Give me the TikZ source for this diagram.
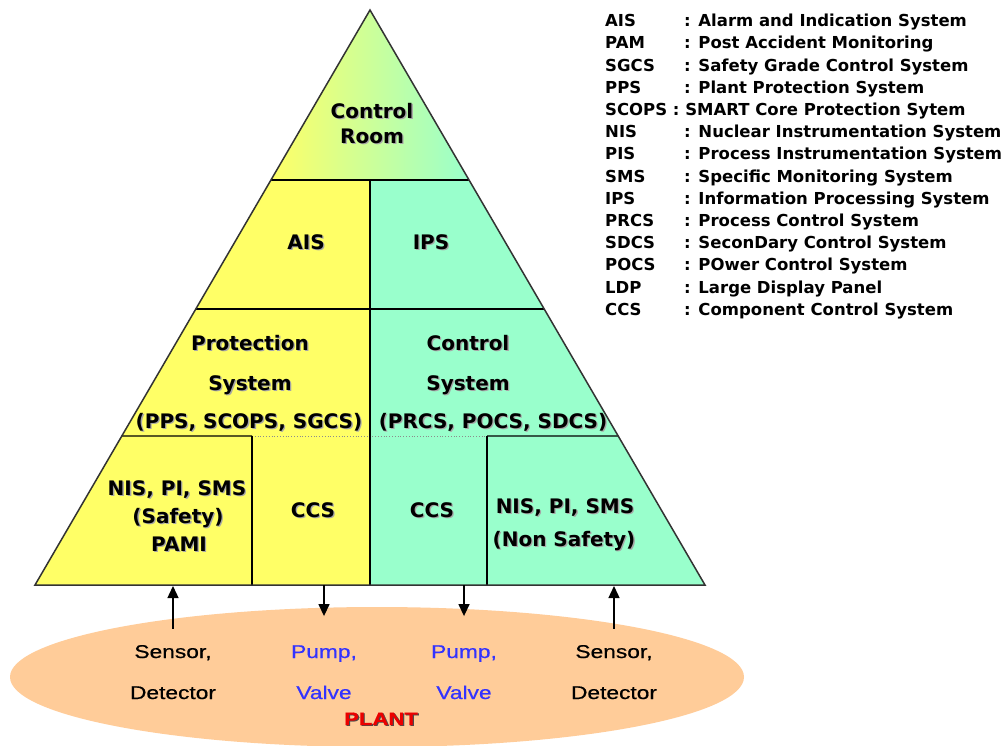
\documentclass[tikz,border=0pt]{standalone}
\usepackage{fontspec}
\setmainfont{DejaVu Sans}
\newfontfamily\plantfont{Liberation Sans}[FakeStretch=1.23,FakeBold=0.6]
\usetikzlibrary{arrows.meta,calc}
\definecolor{ylw}{RGB}{255,255,102}
\definecolor{grn}{RGB}{153,255,204}
\definecolor{peach}{RGB}{255,204,153}
\definecolor{pblue}{RGB}{51,51,255}
\definecolor{edgec}{RGB}{51,51,51}
\definecolor{pred}{RGB}{235,0,0}
\newcommand\shd[1]{\makebox[0pt][l]{\kern1.3pt\raisebox{-1.3pt}{\textcolor{black!35}{#1}}}#1}
\newcommand\shdk[1]{\makebox[0pt][l]{\kern1.2pt\raisebox{-0.8pt}{\textcolor{black!70}{#1}}}#1}
\tikzset{
  lbl/.style={font=\fontsize{20}{24}\selectfont\bfseries, inner sep=0pt, anchor=base},
  leg/.style={font=\fontsize{16.5}{20}\selectfont\bfseries, inner sep=0pt, anchor=base west},
  pl/.style={font=\plantfont\fontsize{18.5}{22}\selectfont, inner sep=0pt, anchor=base},
  bluetxt/.style={pl, text=pblue},
  divider/.style={draw=black, line width=1.4pt},
  arr/.style={draw=black, line width=1.4pt, -{Triangle[length=12pt,width=11pt]}},
}
\begin{document}
\begin{tikzpicture}[x=1pt,y=-1pt]
\useasboundingbox (0,0) rectangle (1008,745);
\fill[white] (0,0) rectangle (1008,745);

% plant ellipse
\fill[peach] (377,677) ellipse [x radius=367, y radius=70];

% triangle corners
\coordinate (A) at (370,10);
\coordinate (BL) at (35,585);
\coordinate (BR) at (705,585);
\coordinate (L1) at ($(A)!0.29565!(BL)$);
\coordinate (R1) at ($(A)!0.29565!(BR)$);
\coordinate (L2) at ($(A)!0.52!(BL)$);
\coordinate (R2) at ($(A)!0.52!(BR)$);
\coordinate (L3) at ($(A)!0.74087!(BL)$);
\coordinate (R3) at ($(A)!0.74087!(BR)$);
\coordinate (M1) at (370,180);
\coordinate (M4) at (370,585);
\coordinate (V1t) at (252,436);
\coordinate (V1b) at (252,585);
\coordinate (V2t) at (487,436);
\coordinate (V2b) at (487,585);

% fills
\shade[left color=ylw, right color=grn] (A) -- (L1) -- (R1) -- cycle;
\fill[ylw] (L1) -- (M1) -- (M4) -- (BL) -- cycle;
\fill[grn] (M1) -- (R1) -- (BR) -- (M4) -- cycle;

% lines
\draw[divider] (L1) -- (R1);
\draw[divider] (L2) -- (R2);
\draw[divider] (L3) -- (V1t);
\draw[black!45, line width=0.8pt, dotted] (V1t) -- (V2t);
\draw[divider] (V2t) -- (R3);
\draw[divider] (M1) -- (M4);
\draw[divider] (V1t) -- (V1b);
\draw[divider] (V2t) -- (V2b);
\draw[edgec, line width=1.5pt, line join=miter] (A) -- (BL) -- (BR) -- cycle;

% triangle labels
\node[lbl] (cr1) at (372,118) {\shd{Control}};
\node[lbl] (cr2) at (372,143) {\shd{Room}};
\node[lbl] (ais) at (306,249) {\shd{AIS}};
\node[lbl] (ips) at (431,249) {\shd{IPS}};
\node[lbl] (p1) at (250,350) {\shd{Protection}};
\node[lbl] (p2) at (250,390) {\shd{System}};
\node[lbl] (p3) at (249,428) {\shd{(PPS, SCOPS, SGCS)}};
\node[lbl] (c1) at (468,350) {\shd{Control}};
\node[lbl] (c2) at (468,390) {\shd{System}};
\node[lbl] (c3) at (493,428) {\shd{(PRCS, POCS, SDCS)}};
\node[lbl] (nl1) at (177,495) {\shd{NIS, PI, SMS}};
\node[lbl] (nl2) at (178,523) {\shd{(Safety)}};
\node[lbl] (nl3) at (179,551) {\shd{PAMI}};
\node[lbl] (ccs1) at (313,517) {\shd{CCS}};
\node[lbl] (ccs2) at (432,517) {\shd{CCS}};
\node[lbl] (nr1) at (565,513) {\shd{NIS, PI, SMS}};
\node[lbl] (nr2) at (564,546) {\shd{(Non Safety)}};

% plant labels
\node[pl] (s1) at (173,658) {Sensor,};
\node[pl] (d1) at (173,699) {Detector};
\node[bluetxt] (pu1) at (324,658) {Pump,};
\node[bluetxt] (v1) at (324,699) {Valve};
\node[bluetxt] (pu2) at (464,658) {Pump,};
\node[bluetxt] (v2) at (464,699) {Valve};
\node[pl] (s2) at (614,658) {Sensor,};
\node[pl] (d2) at (614,699) {Detector};
\node[pl, font=\plantfont\fontsize{18}{22}\selectfont\bfseries, text=pred] (plant) at (381,725) {\shdk{PLANT}};

% arrows
\coordinate (a1) at (173,586);
\coordinate (a2) at (324,585);
\coordinate (a3) at (464,585);
\coordinate (a4) at (614,586);
\draw[arr] ([yshift=16pt]s1.north) -- (a1);
\draw[arr] (a2) -- ([yshift=29pt]pu1.north);
\draw[arr] (a3) -- ([yshift=29pt]pu2.north);
\draw[arr] ([yshift=16pt]s2.north) -- (a4);

% legend
\foreach \i/\ab/\de in {0/AIS/Alarm and Indication System,
  1/PAM/Post Accident Monitoring,
  2/SGCS/Safety Grade Control System,
  3/PPS/Plant Protection System,
  5/NIS/Nuclear Instrumentation System,
  6/PIS/Process Instrumentation System,
  7/SMS/Specific Monitoring System,
  8/IPS/Information Processing System,
  9/PRCS/Process Control System,
  10/SDCS/SeconDary Control System,
  11/POCS/POwer Control System,
  12/LDP/Large Display Panel,
  13/CCS/Component Control System}{
  \node[leg] (ab\i) at (605,{26.7+22.2*\i}) {\ab};
  \node[leg] (de\i) at (684,{26.7+22.2*\i}) {: \de};
}
\node[leg] (ab4) at (605,{26.7+22.2*4}) {SCOPS : SMART Core Protection Sytem};
\end{tikzpicture}
\end{document}
